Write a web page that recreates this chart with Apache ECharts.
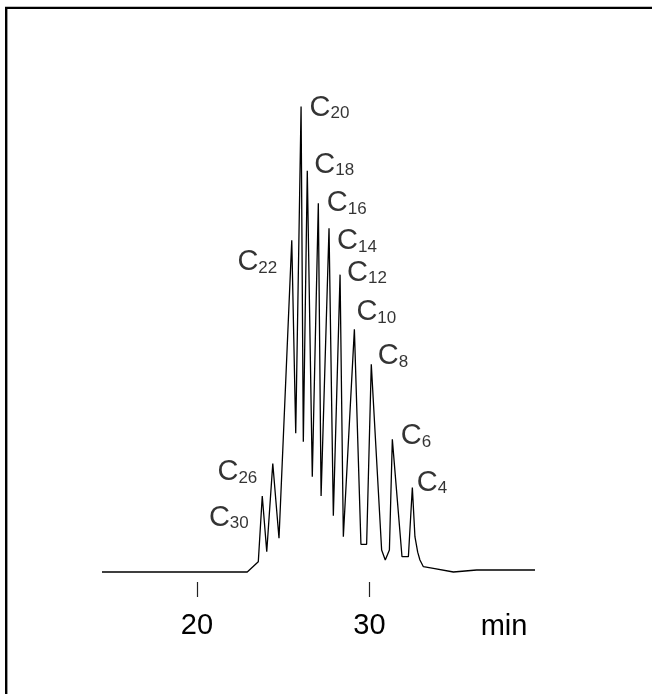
<!DOCTYPE html>
<html>
<head>
<meta charset="utf-8">
<script src="https://cdn.jsdelivr.net/npm/echarts@6/dist/echarts.min.js"></script>
<style>
html,body{margin:0;padding:0;background:#fff;}
#chart{width:652px;height:694px;}
</style>
</head>
<body>
<div id="chart"></div>
<script>
// Retention time (min) and detector signal (arbitrary units) of the trace
const traceTime = [14.5, 22.92, 23.56, 23.66, 23.79, 24.05, 24.40, 24.76, 25.50, 25.73, 26.04, 26.17, 26.40, 26.69, 27.04, 27.20, 27.66, 27.91, 28.30, 28.49, 29.13, 29.51, 29.84, 30.11, 30.71, 30.92, 31.16, 31.33, 31.89, 32.26, 32.49, 32.64, 32.80, 32.93, 33.13, 33.71, 34.87, 36.22, 39.6];
const traceSignal = [0, 0, 2.18, 2.54, 16.1, 4.3, 23.0, 7.14, 70.3, 29.4, 98.6, 27.6, 85.0, 20.2, 78.1, 16.1, 72.8, 11.9, 63.0, 7.48, 51.4, 5.87, 5.87, 44.0, 4.66, 2.54, 4.66, 28.1, 3.24, 3.24, 17.9, 7.48, 4.2, 2.54, 1.12, 0.78, 0, 0.42, 0.42];

// Labelled peaks
const peakCarbon = [30, 26, 22, 20, 18, 16, 14, 12, 10, 8, 6, 4];
const peakTime = [23.79, 24.40, 25.50, 26.04, 26.40, 27.04, 27.66, 28.30, 29.13, 30.11, 31.33, 32.49];
const peakSignal = [16.1, 23.0, 70.3, 98.6, 85.0, 78.1, 72.8, 63.0, 51.4, 44.0, 28.1, 17.9];

// Axis ticks
const tickValues = [20, 30];
const axisUnit = 'min';

// ---- styling (label placement nudges, px) ----
const labelSide = ['left','left','left','right','right','right','right','right','right','right','right','right'];
const labelNudge = [[-13,21.5],[-15,9],[-14,22],[8,1],[6.5,-6],[8,0],[7.5,13],[6.5,-2],[1.5,-17],[6,-8],[8,-3],[4,-5]];

const FONT = 'Liberation Sans, Arial, Helvetica, sans-serif';
const INK = '#000';

const lineData = traceTime.map((t, i) => [t, traceSignal[i]]);
const peakData = peakCarbon.map((c, i) => ({
  value: [peakTime[i], peakSignal[i]],
  name: String(c),
  label: { position: labelSide[i], offset: labelNudge[i] }
}));

const chart = echarts.init(document.getElementById('chart'), null, { renderer: 'canvas' });
chart.setOption({
  backgroundColor: '#fff',
  animation: false,
  grid: { left: 102, right: 117, top: 100, bottom: 112, containLabel: false },
  xAxis: {
    type: 'value',
    min: 14.5,
    max: 39.6,
    axisLine: { show: false, onZero: false },
    splitLine: { show: false },
    axisTick: { show: true, customValues: tickValues, length: 15, lineStyle: { color: '#222', width: 1.2 } },
    axisLabel: { show: true, customValues: tickValues, margin: 29, fontSize: 29, color: INK, fontFamily: FONT },
    name: axisUnit,
    nameLocation: 'end',
    nameGap: -31,
    nameTextStyle: { fontSize: 29, color: INK, fontFamily: FONT, align: 'center', verticalAlign: 'top', padding: [30, 0, 0, 0] }
  },
  yAxis: {
    type: 'value',
    min: -2.12,
    max: 100,
    show: false
  },
  series: [
    {
      type: 'line',
      data: lineData,
      showSymbol: false,
      symbol: 'none',
      lineStyle: { color: INK, width: 1.3 },
      silent: true
    },
    {
      type: 'scatter',
      data: peakData,
      symbolSize: 1,
      itemStyle: { color: 'rgba(0,0,0,0)' },
      silent: true,
      label: {
        show: true,
        distance: 0,
        formatter: p => '{c|C}{s|' + p.name + '}',
        rich: {
          c: { fontSize: 29, lineHeight: 29, color: INK, fontFamily: FONT },
          s: { fontSize: 17, lineHeight: 21, color: INK, fontFamily: FONT, verticalAlign: 'bottom' }
        }
      }
    }
  ],
  graphic: [
    {
      type: 'rect',
      shape: { x: 6.2, y: 7.9, width: 900, height: 900 },
      style: { fill: 'none', stroke: '#000', lineWidth: 2.4 },
      silent: true
    }
  ]
});
</script>
</body>
</html>
